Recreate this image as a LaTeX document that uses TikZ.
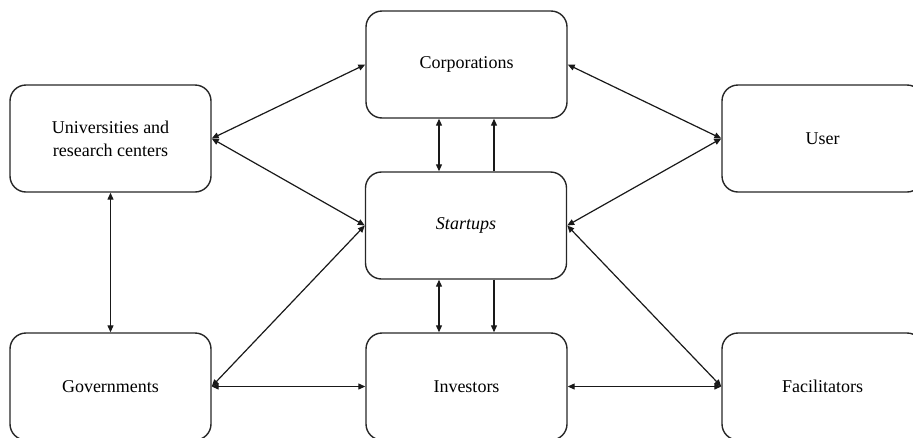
\documentclass[tikz,border=0pt]{standalone}
\usepackage{fontspec}
\setmainfont{Liberation Serif}
\usetikzlibrary{arrows.meta}
\begin{document}
\begin{tikzpicture}[x=1pt,y=-1pt,
  box/.style={draw=black!85, line width=1.4pt, rounded corners=16pt, minimum width=201pt, minimum height=107pt, inner sep=0pt, align=center, font=\fontsize{18}{23}\selectfont},
  link/.style={line width=1.2pt, draw=black!90, {Triangle[length=7pt,width=6pt]}-{Triangle[length=7pt,width=6pt]}},
  onew/.style={line width=1.2pt, draw=black!90, -{Triangle[length=7pt,width=6pt]}}]
\useasboundingbox (0,0) rectangle (913,437);
\clip (0,0) rectangle (913,437);
\node[box] (c) at (466.5,64.5) {Corporations};
\node[box] (u) at (110.5,138.5) {Universities and\\research centers};
\node[box] (s) at (466,225.5) {\itshape Startups};
\node[box] (us) at (822.5,138.5) {User};
\node[box] (g) at (110.5,386.5) {Governments};
\node[box] (i) at (466.5,386.5) {Investors};
\node[box] (f) at (822.5,386.5) {Facilitators};
\coordinate (ax) at (439,0);
\coordinate (bx) at (494,0);
\draw[link] (u.east) -- (c.west);
\draw[link] (u.east) -- (s.west);
\draw[link] (u.south) -- (g.north);
\draw[link] (g.east) -- (s.west);
\draw[link] (g.east) -- (i.west);
\draw[link] (i.east) -- (f.west);
\draw[link] (s.east) -- (f.west);
\draw[link] (us.west) -- (c.east);
\draw[link] (us.west) -- (s.east);
\draw[link] (c.south -| ax) -- (s.north -| ax);
\draw[onew] (s.north -| bx) -- (c.south -| bx);
\draw[link] (s.south -| ax) -- (i.north -| ax);
\draw[onew] (s.south -| bx) -- (i.north -| bx);
\end{tikzpicture}
\end{document}
